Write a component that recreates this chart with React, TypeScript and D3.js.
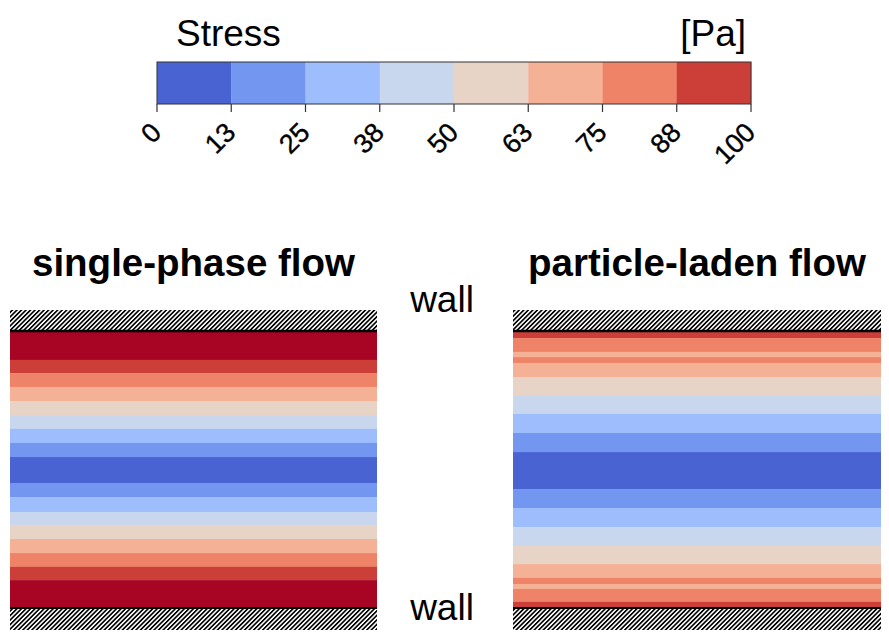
import React from "react";
import * as d3 from "d3";

// Colorbar levels (Pa)
const levelEdges = [0, 12.5, 25, 37.5, 50, 62.5, 75, 87.5, 100];
const tickLabels = ["0", "13", "25", "38", "50", "63", "75", "88", "100"];
const levelColors = [
  "#4a63d3", "#7396f1", "#9ebdfc", "#c9d7ee",
  "#e8d3c7", "#f5b195", "#ee8367", "#cc3f39",
];
const overColor = "#a70523";

// Single-phase flow: band edges (y/H from top wall) and band stress (Pa)
const singleEdges = [
  0, 0.101, 0.149, 0.199, 0.25, 0.301, 0.351, 0.402, 0.453,
  0.547, 0.598, 0.652, 0.699, 0.75, 0.801, 0.851, 0.899, 1,
];
const singleStress = [110, 94, 81, 69, 56, 44, 31, 19, 6, 19, 31, 44, 56, 69, 81, 94, 110];

// Particle-laden flow
const particleEdges = [
  0, 0.022, 0.072, 0.091, 0.112, 0.163, 0.232, 0.297, 0.366, 0.435,
  0.569, 0.638, 0.707, 0.775, 0.841, 0.891, 0.913, 0.931, 0.978, 1,
];
const particleStress = [94, 81, 69, 81, 69, 56, 44, 31, 19, 6, 19, 31, 44, 56, 69, 81, 69, 81, 94];

const FONT = "Liberation Sans, Arial, sans-serif";

const color = d3
  .scaleThreshold<number, string>()
  .domain(levelEdges.slice(1))
  .range([...levelColors, overColor]);

function Panel({ x0, x1, edges, stress, title }: { x0: number; x1: number; edges: number[]; stress: number[]; title: string }) {
  const chTop = 332;
  const chBot = 608;
  const hatchH = 22;
  const y = d3.scaleLinear().domain([0, 1]).range([chTop, chBot]);
  return (
    <g>
      <text x={(x0 + x1) / 2} y={276} textAnchor="middle" fontFamily={FONT} fontWeight="bold" fontSize={38.5}>
        {title}
      </text>
      <rect x={x0} y={chTop - hatchH} width={x1 - x0} height={hatchH} fill="url(#hatch)" />
      <rect x={x0} y={chBot} width={x1 - x0} height={hatchH} fill="url(#hatch)" />
      {stress.map((s, i) => (
        <rect
          key={i}
          x={x0}
          y={y(edges[i])}
          width={x1 - x0}
          height={y(edges[i + 1]) - y(edges[i]) + 0.3}
          fill={color(s)}
        />
      ))}
      <line x1={x0} x2={x1} y1={chTop - 1} y2={chTop - 1} stroke="#000" strokeWidth={2.5} />
      <line x1={x0} x2={x1} y1={chBot} y2={chBot} stroke="#000" strokeWidth={2} />
    </g>
  );
}

export default function App() {
  const cbX = d3.scaleLinear().domain([0, 100]).range([157, 751]);
  const cbTop = 62;
  const cbBot = 104;
  return (
    <svg width={889} height={641} style={{ position: "absolute", left: 0, top: 0, background: "#fff" }}>
      <defs>
        <pattern id="hatch" patternUnits="userSpaceOnUse" width={3.2} height={3.2} patternTransform="rotate(45)">
          <rect width={3.2} height={3.2} fill="#fff" />
          <line x1={0.8} y1={0} x2={0.8} y2={3.2} stroke="#000" strokeWidth={1.7} />
        </pattern>
      </defs>
      {/* colorbar */}
      <text x={176} y={46} fontFamily={FONT} fontSize={37}>Stress</text>
      <text x={746} y={46} textAnchor="end" fontFamily={FONT} fontSize={37}>[Pa]</text>
      {levelColors.map((c, i) => (
        <rect
          key={i}
          x={cbX(levelEdges[i])}
          y={cbTop}
          width={cbX(levelEdges[i + 1] ?? 100) - cbX(levelEdges[i]) + 0.3}
          height={cbBot - cbTop}
          fill={c}
        />
      ))}
      <rect x={cbX(0)} y={cbTop} width={cbX(100) - cbX(0)} height={cbBot - cbTop} fill="none" stroke="#333" strokeWidth={1} />
      {levelEdges.map((v, i) => (
        <g key={i}>
          <line x1={cbX(v)} x2={cbX(v)} y1={cbBot} y2={cbBot + 8} stroke="#333" strokeWidth={1.2} />
          <text
            transform={`translate(${cbX(v) + 6},${134}) rotate(-45)`}
            textAnchor="end"
            fontFamily={FONT}
            fontSize={27}
            stroke="#000"
            strokeWidth={0.4}
          >
            {tickLabels[i]}
          </text>
        </g>
      ))}
      <Panel x0={10} x1={377} edges={singleEdges} stress={singleStress} title="single-phase flow" />
      <Panel x0={513} x1={881} edges={particleEdges} stress={particleStress} title="particle-laden flow" />
      <text x={442} y={312} textAnchor="middle" fontFamily={FONT} fontSize={37}>wall</text>
      <text x={442} y={620} textAnchor="middle" fontFamily={FONT} fontSize={37}>wall</text>
    </svg>
  );
}
